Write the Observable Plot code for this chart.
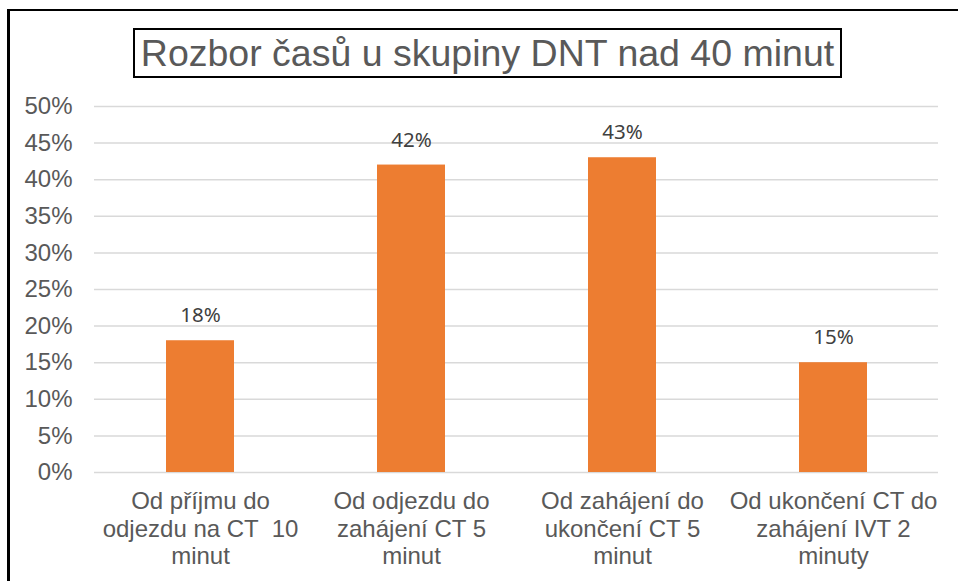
<!DOCTYPE html>
<html>
<head>
<meta charset="utf-8">
<script src="https://cdn.jsdelivr.net/npm/d3@7"></script>
<script src="https://cdn.jsdelivr.net/npm/@observablehq/plot@0.6"></script>
<style>
  html, body { margin: 0; padding: 0; background: #fff; }
  #wrap { position: relative; width: 958px; height: 581px; overflow: hidden; background: #fff; }
  #frame { position: absolute; left: 7px; top: 9px; width: 960px; height: 600px;
           border-top: 2px solid #000; border-left: 3px solid #000; box-sizing: border-box; }
  #title { position: absolute; left: 133px; top: 28px; width: 709px; height: 50px;
           border: 2px solid #000; box-sizing: border-box; background: #fff;
           font-family: "Liberation Sans", Arial, sans-serif; font-size: 37.5px; color: #595959;
           display: flex; align-items: center; justify-content: center; white-space: nowrap; z-index: 2; }
  #chart { position: absolute; left: 0; top: 0; }
</style>
</head>
<body>
<div id="wrap">
  <div id="chart"></div>
  <div id="frame"></div>
  <div id="title">Rozbor časů u skupiny DNT nad 40 minut</div>
</div>
<script>
const categories = [
  "Od příjmu do odjezdu na CT  10 minut",
  "Od odjezdu do zahájení CT 5 minut",
  "Od zahájení do ukončení CT 5 minut",
  "Od ukončení CT do zahájení IVT 2 minuty"
];
const tickLabels = [
  "Od příjmu do\nodjezdu na CT  10\nminut",
  "Od odjezdu do\nzahájení CT 5\nminut",
  "Od zahájení do\nukončení CT 5\nminut",
  "Od ukončení CT do\nzahájení IVT 2\nminuty"
];
const values = [0.18, 0.42, 0.43, 0.15];
const valueLabels = ["18%", "42%", "43%", "15%"];
const yTicks = [0, 0.05, 0.10, 0.15, 0.20, 0.25, 0.30, 0.35, 0.40, 0.45, 0.50];

const data = categories.map((c, i) => ({cat: c, value: values[i], label: valueLabels[i], tick: tickLabels[i]}));

const chart = Plot.plot({
  width: 958,
  height: 581,
  marginTop: 106,
  marginBottom: 109,
  marginLeft: 94,
  marginRight: 20,
  style: {fontFamily: "'Liberation Sans', Arial, sans-serif", background: "transparent", overflow: "visible"},
  x: {domain: categories, paddingInner: 0.68, paddingOuter: 0.34, label: null},
  y: {domain: [0, 0.5], label: null},
  marks: [
    Plot.gridY(yTicks, {stroke: "#d9d9d9", strokeOpacity: 1, strokeWidth: 1.5}),
    Plot.barY(data, {x: "cat", y: "value", fill: "#ED7D31"}),
    Plot.text(data, {x: "cat", y: "value", text: "label", dy: -25, fill: "#404040",
      fontSize: 20.5, fontFamily: "'Noto Sans', 'Open Sans', sans-serif"}),
    Plot.axisY(yTicks, {tickSize: 0, tickPadding: 22, fontSize: 24, color: "#595959",
      tickFormat: d => Math.round(d * 100) + "%", label: null}),
    Plot.axisX({tickSize: 0, tickPadding: 17, fontSize: 24, color: "#595959", lineHeight: 1.15,
      tickFormat: d => tickLabels[categories.indexOf(d)], label: null})
  ]
});
document.getElementById("chart").appendChild(chart);
</script>
</body>
</html>
